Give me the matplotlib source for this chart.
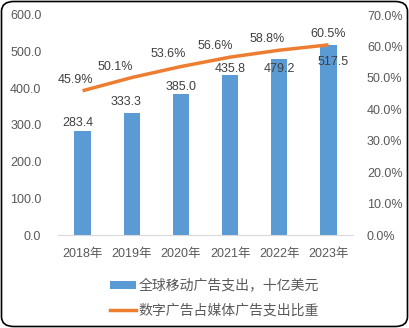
import matplotlib
matplotlib.use("Agg")
import matplotlib.pyplot as plt
from matplotlib.patches import FancyBboxPatch, Patch
from matplotlib.lines import Line2D
import numpy as np

plt.rcParams['font.family'] = ['Liberation Sans', 'Noto Sans CJK SC', 'DejaVu Sans']

years = ["2018年", "2019年", "2020年", "2021年", "2022年", "2023年"]
spend = [283.4, 333.3, 385.0, 435.8, 479.2, 517.5]
share = [45.9, 50.1, 53.6, 56.6, 58.8, 60.5]
bar_name = "全球移动广告支出，十亿美元"
line_name = "数字广告占媒体广告支出比重"

# label offsets (pixels) - styling
bar_off = [(-5, 8), (-6, 11), (0, 7), (0, 6), (0, -10), (5, -17)]
line_off = [(-7, 11), (-16, 11), (-13, 13), (-15, 11), (-12, 11), (0, 11)]

BLUE = "#5B9BD5"
ORANGE = "#ED7D31"
TXT = "#595959"
LBL = "#404040"

fig = plt.figure(figsize=(4.09, 3.28), dpi=100)
ax = fig.add_axes([58/409, 1-235/328, (353-58)/409, (235-15)/328])
ax2 = ax.twinx()

x = np.arange(len(years))
ax.bar(x, spend, width=0.33, color=BLUE, zorder=2)
ax.set_ylim(0, 600)
ax.set_xlim(-0.5, len(years)-0.5)
ax.set_yticks(np.arange(0, 601, 100))
ax.set_yticklabels([f"{v:.1f}" for v in np.arange(0, 601, 100)])
ax.set_xticks(x)
ax.set_xticklabels(years)

share_frac = [s/100 for s in share]
ax2.plot(x, share_frac, color=ORANGE, lw=2.5, solid_capstyle='butt', zorder=3)
ax2.set_ylim(0, 0.7)
ax2.set_yticks(np.arange(0, 0.71, 0.1))
ax2.set_yticklabels([f"{v*100:.1f}%" for v in np.arange(0, 0.71, 0.1)])

for a in (ax, ax2):
    for s in a.spines.values():
        s.set_visible(False)
    a.tick_params(length=0, labelsize=9, colors=TXT)
ax.spines['bottom'].set_visible(True)
ax.spines['bottom'].set_color("#D9D9D9")
ax.tick_params(axis='y', pad=12)
ax.tick_params(axis='x', pad=9)
ax2.tick_params(axis='y', pad=10)

px = 72/100
for i, v in enumerate(spend):
    dx, dy = bar_off[i]
    ax.annotate(f"{v:.1f}", (x[i], v), xytext=(dx*px, dy*px), textcoords='offset points',
                ha='center', va='center', fontsize=9, color=LBL, zorder=5)
for i, v in enumerate(share_frac):
    dx, dy = line_off[i]
    ax2.annotate(f"{share[i]:.1f}%", (x[i], v), xytext=(dx*px, dy*px), textcoords='offset points',
                 ha='center', va='center', fontsize=9, color=LBL, zorder=5)

handles = [Patch(facecolor=BLUE, edgecolor='none'),
           Line2D([0], [0], color=ORANGE, lw=2.5)]
leg = fig.legend(handles, [bar_name, line_name], loc='upper left',
                 bbox_to_anchor=(97/409, 1-266/328), frameon=False,
                 prop={'family': ['Noto Sans CJK SC', 'DejaVu Sans'], 'size': 10},
                 handlelength=1.9, handleheight=0.5, handletextpad=0.2, labelspacing=0.8)
for t in leg.get_texts():
    t.set_color(TXT)

border = FancyBboxPatch((1.5/409, 1.5/328), 406/409, 325/328,
                        boxstyle="round,pad=0,rounding_size=0.03",
                        transform=fig.transFigure, fill=False, edgecolor='black', lw=1.2)
fig.patches.append(border)

fig.savefig("out.png", dpi=100)
